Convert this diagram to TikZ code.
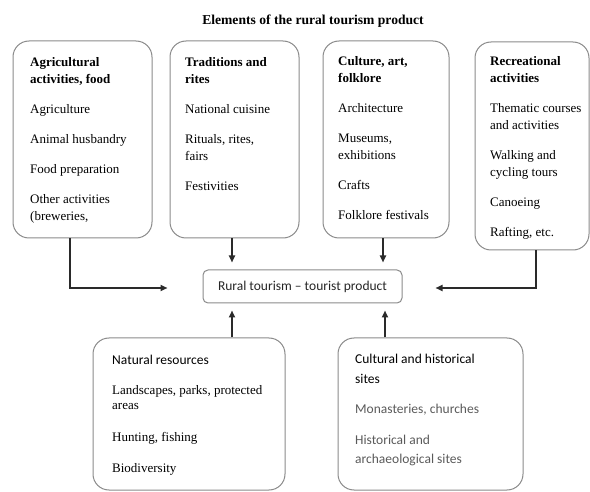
\documentclass[tikz,border=0pt]{standalone}
\usepackage{fontspec}
\setmainfont{Liberation Serif}
\newfontfamily\calib{Carlito}
\usetikzlibrary{arrows.meta}
\definecolor{boxgray}{HTML}{8A8A8A}
\definecolor{arrgray}{HTML}{2A2A2A}
\definecolor{bodygray}{HTML}{5A5A5A}
\tikzset{
  bigbox/.style={draw=boxgray, line width=1pt, rounded corners=16pt, inner sep=0pt},
  centerbox/.style={draw=boxgray, line width=1pt, rounded corners=5pt, inner sep=0pt,
     minimum width=199pt, minimum height=33pt, font=\calib\fontsize{13.5}{16}\selectfont, text=black!85},
  serftext/.style={anchor=north west, inner sep=0pt, align=left, font=\fontsize{13}{17}\selectfont},
  sanstext/.style={anchor=north west, inner sep=0pt, align=left, font=\calib\fontsize{13.5}{19.5}\selectfont},
  arr/.style={draw=arrgray, line width=2pt, -{Triangle[length=7pt,width=6pt]}},
}
\begin{document}
\begin{tikzpicture}[x=1pt,y=-1pt]
\useasboundingbox (0,0) rectangle (590,492);

\node[font=\bfseries\fontsize{13.6}{15}\selectfont] (title) at (313,21) {Elements of the rural tourism product};

% top boxes
\node[bigbox, minimum width=139pt, minimum height=197pt] (b1) at (82.5,139.5) {};
\node[bigbox, minimum width=129pt, minimum height=197pt] (b2) at (234.5,139.5) {};
\node[bigbox, minimum width=126pt, minimum height=197pt] (b3) at (386,139.5) {};
\node[bigbox, minimum width=114pt, minimum height=208pt] (b4) at (532,146) {};

\node[serftext] (t1) at (30,57) {\textbf{Agricultural}\\\textbf{activities, food}\\[13pt]Agriculture\\[13pt]Animal husbandry\\[13pt]Food preparation\\[13pt]Other activities\\(breweries,};
\node[serftext] (t2) at (185,57) {\textbf{Traditions and}\\\textbf{rites}\\[13pt]National cuisine\\[13pt]Rituals, rites,\\fairs\\[13pt]Festivities};
\node[serftext] (t3) at (338,56) {\textbf{Culture, art,}\\\textbf{folklore}\\[13pt]Architecture\\[13pt]Museums,\\exhibitions\\[13pt]Crafts\\[13pt]Folklore festivals};
\node[serftext] (t4) at (490,56) {\textbf{Recreational}\\\textbf{activities}\\[13pt]Thematic courses\\and activities\\[13pt]Walking and\\cycling tours\\[13pt]Canoeing\\[13pt]Rafting, etc.};

% center box
\node[centerbox] (c) at (302.5,286.5) {Rural tourism – tourist product};

% bottom boxes
\node[bigbox, minimum width=192pt, minimum height=152pt] (n) at (189,414) {};
\node[bigbox, minimum width=185pt, minimum height=152pt] (h) at (430.5,414) {};

\node[anchor=north west, inner sep=0pt, align=left, font=\calib\fontsize{13.5}{16}\selectfont] (tnh) at (112,355) {Natural resources};
\node[serftext, font=\fontsize{13}{15.5}\selectfont] (tn) at (112,385)
  {Landscapes, parks, protected\\areas\\[16pt]Hunting, fishing\\[16pt]Biodiversity};
\node[sanstext] (th) at (355,354) {Cultural and historical\\sites\\[11pt]\textcolor{bodygray}{Monasteries, churches}\\[11pt]\textcolor{bodygray}{Historical and}\\\textcolor{bodygray}{archaeological sites}};

% connectors
\coordinate (e1) at ([xshift=-35pt,yshift=-1.5pt]c.west);
\coordinate (e4) at ([xshift=33pt,yshift=-1.5pt]c.east);
\draw[arr] ([xshift=-12.5pt]b1.south) |- (e1);
\draw[arr] ([xshift=-2.5pt]b2.south) -- ([xshift=-70.5pt,yshift=7pt]c.north);
\draw[arr] ([xshift=-3pt]b3.south) -- ([xshift=80.5pt,yshift=7pt]c.north);
\draw[arr] ([xshift=4pt]b4.south) |- (e4);
\draw[arr] ([xshift=43pt]n.north) -- ([xshift=-70.5pt,yshift=-7pt]c.south);
\draw[arr] ([xshift=-45.5pt]h.north) -- ([xshift=82.5pt,yshift=-7pt]c.south);
\end{tikzpicture}
\end{document}
